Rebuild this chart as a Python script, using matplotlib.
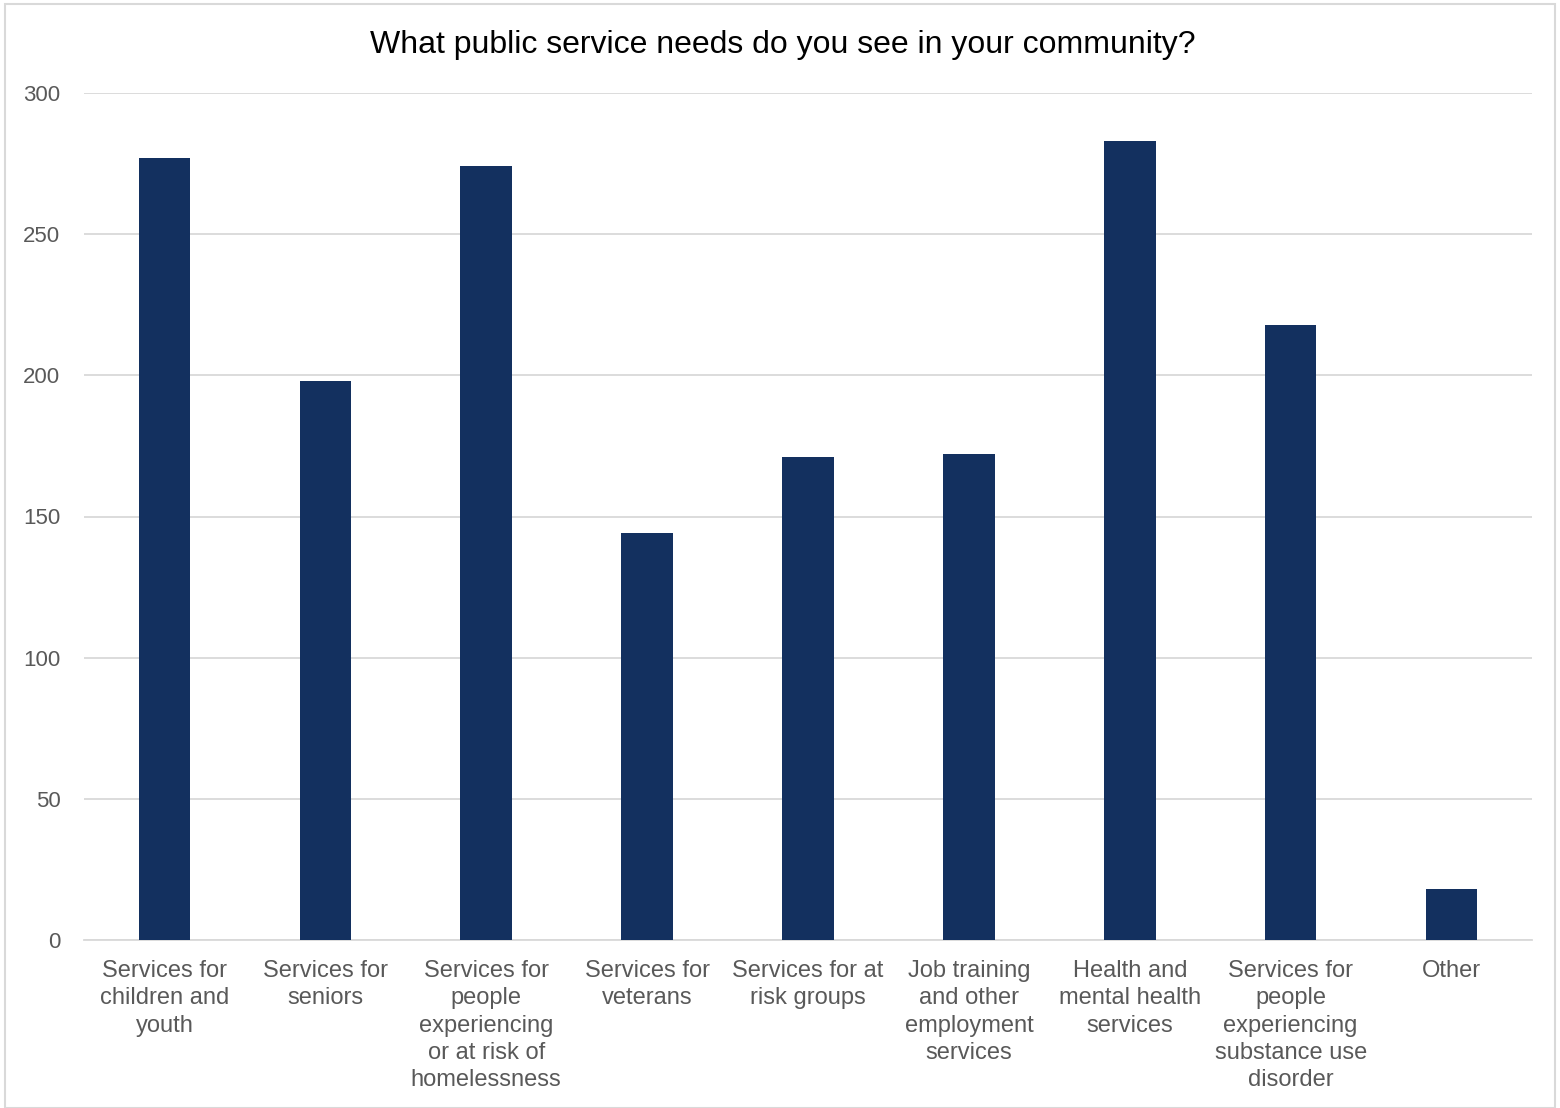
import matplotlib.pyplot as plt
import numpy as np
from matplotlib.patches import Rectangle

categories = [
    "Services for\nchildren and\nyouth",
    "Services for\nseniors",
    "Services for\npeople\nexperiencing\nor at risk of\nhomelessness",
    "Services for\nveterans",
    "Services for at\nrisk groups",
    "Job training\nand other\nemployment\nservices",
    "Health and\nmental health\nservices",
    "Services for\npeople\nexperiencing\nsubstance use\ndisorder",
    "Other",
]
counts = [277, 198, 274, 144, 171, 172, 283, 218, 18]
y_ticks = [0, 50, 100, 150, 200, 250, 300]

plt.rcParams["font.family"] = ["Liberation Sans", "DejaVu Sans"]

fig = plt.figure(figsize=(15.6, 11.08), dpi=100)
ax = fig.add_axes([84 / 1560, 1 - 940 / 1108, 1448 / 1560, 847 / 1108])

x = np.arange(len(categories))
ax.bar(x, counts, width=0.32, color="#13305f", zorder=3)

ax.set_xlim(-0.5, len(categories) - 0.5)
ax.set_ylim(0, 300)
ax.set_yticks(y_ticks)
ax.set_xticks(x)
ax.set_xticklabels(categories, fontsize=17, color="#595959", linespacing=1.31)
ax.tick_params(axis="y", labelsize=16, colors="#595959", length=0, pad=17)
ax.tick_params(axis="x", length=0, pad=14.5)
ax.grid(axis="y", color="#d9d9d9", linewidth=1.3, zorder=0)
for s in ["top", "right", "left"]:
    ax.spines[s].set_visible(False)
ax.spines["bottom"].set_color("#d9d9d9")
ax.spines["bottom"].set_linewidth(1.3)

fig.text(783 / 1560, 1 - 45 / 1108, "What public service needs do you see in your community?",
         ha="center", va="center", fontsize=23, color="black")

fig.patches.append(Rectangle((5 / 1560, 0), 1 - 10 / 1560, 1 - 4 / 1108,
                             transform=fig.transFigure, fill=False,
                             edgecolor="#d9d9d9", linewidth=1.5))

fig.savefig("out.png", dpi=100)
